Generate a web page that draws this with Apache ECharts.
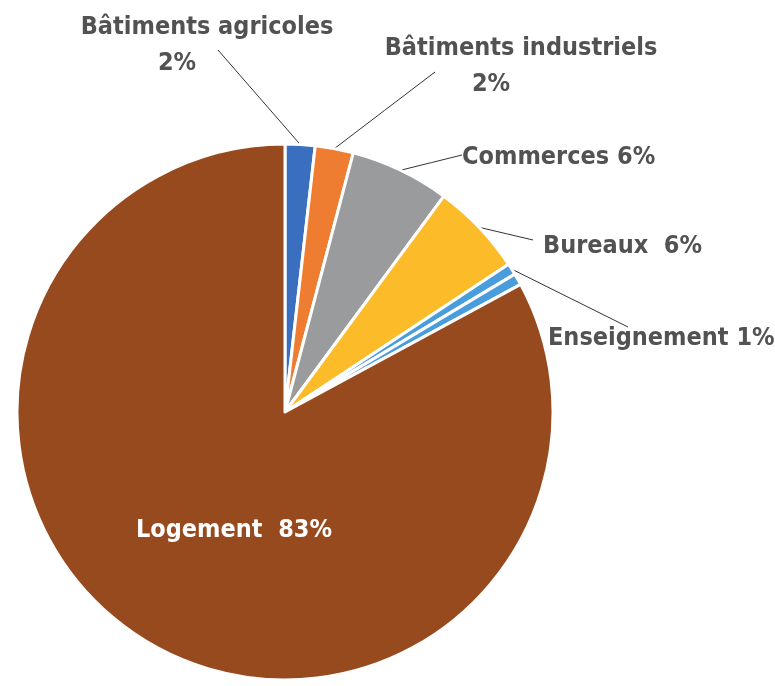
<!DOCTYPE html>
<html>
<head>
<meta charset="utf-8">
<script src="https://cdn.jsdelivr.net/npm/echarts@6/dist/echarts.min.js"></script>
<style>html,body{margin:0;padding:0;background:#fff;}#c{width:775px;height:686px;}</style>
</head>
<body>
<div id="c"></div>
<script>
var categories = ['Bâtiments agricoles', 'Bâtiments industriels', 'Commerces', 'Bureaux', 'Enseignement', '', 'Logement'];
var values = [1.8, 2.3, 6.0, 5.6, 0.7, 0.7, 82.9];
var colors = ['#3a6fc0', '#ee7d31', '#999b9c', '#fcbb29', '#4a9ddd', '#4a9ddd', '#974a1e'];
var twoLine = [true, true, false, false, false, false, false];
var labelSep = ['', '', ' ', '  ', ' ', ' ', '  '];
var labelAnchors = [
  {x: 207, y: 45, align: 'center', lineEnd: [218, 50]},
  {x: 521, y: 66, align: 'center', lineEnd: [435, 72]},
  {x: 462, y: 157, align: 'left', lineEnd: [462, 155]},
  {x: 543, y: 246, align: 'left', lineEnd: [533, 240]},
  {x: 548, y: 338, align: 'left', lineEnd: [628, 327]},
  null,
  {x: 234, y: 530, align: 'center'}
];

var fontFam = '"DejaVu Sans Condensed", "DejaVu Sans", sans-serif';
var data = categories.map(function (n, i) {
  var d = {name: n, value: values[i], itemStyle: {color: colors[i]}};
  if (n === '') { d.label = {show: false}; d.labelLine = {show: false}; }
  if (i === 6) {
    d.label = {position: 'inside', color: '#ffffff'};
    d.labelLine = {show: false};
  }
  return d;
});

var chart = echarts.init(document.getElementById('c'));
chart.setOption({
  animation: false,
  series: [{
    type: 'pie',
    center: [285, 412],
    radius: 268,
    startAngle: 90,
    clockwise: true,
    avoidLabelOverlap: false,
    itemStyle: {borderColor: '#ffffff', borderWidth: 3},
    label: {
      show: true,
      position: 'outside',
      fontFamily: fontFam,
      fontWeight: 'bold',
      fontSize: 25,
      lineHeight: 36,
      color: '#525252',
      formatter: function (p) {
        var pct = Math.round(p.value) + '%';
        if (twoLine[p.dataIndex]) return '{n|' + p.name + '}\n{p|' + pct + '}';
        return p.name + labelSep[p.dataIndex] + pct;
      },
      rich: {
        n: {fontFamily: fontFam, fontWeight: 'bold', fontSize: 25, lineHeight: 36, color: '#525252'},
        p: {fontFamily: fontFam, fontWeight: 'bold', fontSize: 25, lineHeight: 36, color: '#525252', padding: [0, 60, 0, 0]}
      }
    },
    labelLine: {show: true, lineStyle: {color: '#333333', width: 1}},
    labelLayout: function (p) {
      var a = labelAnchors[p.dataIndex];
      if (!a) return {};
      var out = {x: a.x, y: a.y, align: a.align, verticalAlign: 'middle'};
      if (a.lineEnd && p.labelLinePoints) {
        var s = p.labelLinePoints[0];
        var e = a.lineEnd;
        out.labelLinePoints = [s, [(s[0] + e[0]) / 2, (s[1] + e[1]) / 2], e];
      }
      return out;
    },
    data: data
  }]
});
</script>
</body>
</html>
